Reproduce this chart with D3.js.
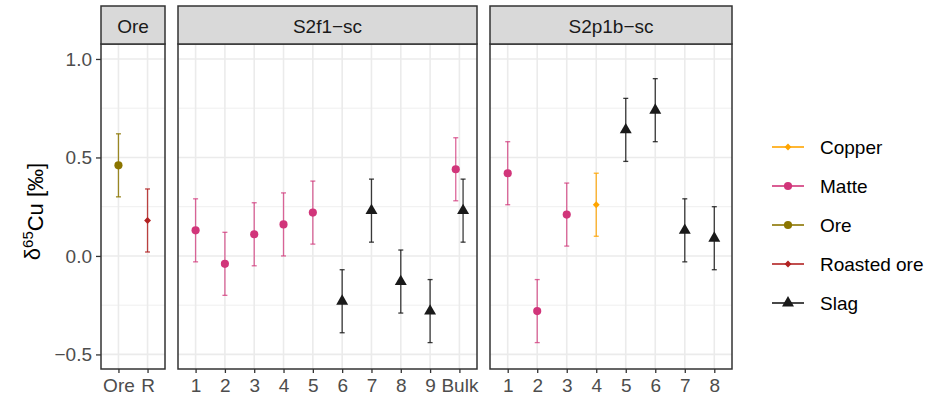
<!DOCTYPE html>
<html>
<head>
<meta charset="utf-8">
<script src="https://cdn.jsdelivr.net/npm/d3@7"></script>
<style>
  body { margin: 0; background: #fff; }
  svg { font-family: "Liberation Sans", Arial, Helvetica, sans-serif; }
</style>
</head>
<body>
<svg id="chart" width="935" height="401"></svg>
<script>
// facet names and their x categories
const panelNames = ["Ore", "S2f1-sc", "S2p1b-sc"];
const oreCats = ["Ore", "R"];
const s2fCats = ["1", "2", "3", "4", "5", "6", "7", "8", "9", "Bulk"];
const s2pCats = ["1", "2", "3", "4", "5", "6", "7", "8"];

// measurements per facet: category, material, delta65Cu, low, high
const oreData = [
  ["Ore", "Ore", 0.46, 0.30, 0.62],
  ["R", "Roasted ore", 0.18, 0.02, 0.34],
];
const s2fData = [
  ["1", "Matte", 0.13, -0.03, 0.29],
  ["2", "Matte", -0.04, -0.20, 0.12],
  ["3", "Matte", 0.11, -0.05, 0.27],
  ["4", "Matte", 0.16, 0.00, 0.32],
  ["5", "Matte", 0.22, 0.06, 0.38],
  ["6", "Slag", -0.23, -0.39, -0.07],
  ["7", "Slag", 0.23, 0.07, 0.39],
  ["8", "Slag", -0.13, -0.29, 0.03],
  ["9", "Slag", -0.28, -0.44, -0.12],
  ["Bulk", "Matte", 0.44, 0.28, 0.60],
  ["Bulk", "Slag", 0.23, 0.07, 0.39],
];
const s2pData = [
  ["1", "Matte", 0.42, 0.26, 0.58],
  ["2", "Matte", -0.28, -0.44, -0.12],
  ["3", "Matte", 0.21, 0.05, 0.37],
  ["4", "Copper", 0.26, 0.10, 0.42],
  ["5", "Slag", 0.64, 0.48, 0.80],
  ["6", "Slag", 0.74, 0.58, 0.90],
  ["7", "Slag", 0.13, -0.03, 0.29],
  ["8", "Slag", 0.09, -0.07, 0.25],
];

const materials = ["Copper", "Matte", "Ore", "Roasted ore", "Slag"];
const materialColors = ["#FFA500", "#D1357A", "#8B7500", "#B22222", "#1A1A1A"];
const materialShapes = ["diamond", "circle", "circle", "diamond", "triangle"];
const yTicks = [-0.5, 0.0, 0.5, 1.0];
const yMinor = [-0.25, 0.25, 0.75];

const svg = d3.select("#chart");
const color = d3.scaleOrdinal().domain(materials).range(materialColors);
const shape = d3.scaleOrdinal().domain(materials).range(materialShapes);

const plotTop = 44, plotBottom = 369;
const y = d3.scaleLinear().domain([-0.574, 1.076]).range([plotBottom, plotTop]);

const panels = [
  { name: panelNames[0], cats: oreCats, data: oreData, x0: 101, x1: 165 },
  { name: panelNames[1], cats: s2fCats, data: s2fData, x0: 178, x1: 477 },
  { name: panelNames[2], cats: s2pCats, data: s2pData, x0: 490, x1: 732 },
];

const symbolPath = s => {
  if (s === "circle") return d3.symbol(d3.symbolCircle, 52)();
  if (s === "triangle") return d3.symbol(d3.symbolTriangle, 62)();
  return d3.symbol(d3.symbolDiamond2, 30)();
};

panels.forEach(p => {
  const x = d3.scalePoint().domain(p.cats).range([p.x0, p.x1]).padding(0.6);
  const step = x.step();
  const g = svg.append("g");

  // grid
  g.selectAll(".minor").data(yMinor).join("line")
    .attr("x1", p.x0).attr("x2", p.x1)
    .attr("y1", d => y(d)).attr("y2", d => y(d))
    .attr("stroke", "#EBEBEB").attr("stroke-width", 0.8);
  g.selectAll(".major").data(yTicks).join("line")
    .attr("x1", p.x0).attr("x2", p.x1)
    .attr("y1", d => y(d)).attr("y2", d => y(d))
    .attr("stroke", "#EBEBEB").attr("stroke-width", 1.6);
  g.selectAll(".vgrid").data(p.cats).join("line")
    .attr("x1", d => x(d)).attr("x2", d => x(d))
    .attr("y1", plotTop).attr("y2", plotBottom)
    .attr("stroke", "#EBEBEB").attr("stroke-width", 1.6);

  // dodge where a category holds more than one material
  const counts = d3.rollup(p.data, v => v.length, d => d[0]);
  const seen = {};
  const px = d => {
    const n = counts.get(d[0]);
    if (n === 1) return x(d[0]);
    const k = seen[d[0]] = (seen[d[0]] === undefined ? 0 : seen[d[0]] + 1);
    return x(d[0]) + (k - (n - 1) / 2) * step * 0.25;
  };
  const pts = p.data.map(d => ({ d, cx: px(d) }));

  // error bars
  const eb = g.selectAll(".eb").data(pts).join("g")
    .attr("stroke", e => color(e.d[1]))
    .attr("stroke-opacity", e => e.d[1] === "Matte" ? 0.75 : 0.85)
    .attr("stroke-width", 1.3);
  eb.append("line")
    .attr("x1", e => e.cx).attr("x2", e => e.cx)
    .attr("y1", e => y(e.d[3])).attr("y2", e => y(e.d[4]));
  [3, 4].forEach(i => {
    eb.append("line")
      .attr("x1", e => e.cx - 2.5).attr("x2", e => e.cx + 2.5)
      .attr("y1", e => y(e.d[i])).attr("y2", e => y(e.d[i]));
  });

  // points
  g.selectAll(".pt").data(pts).join("path")
    .attr("d", e => symbolPath(shape(e.d[1])))
    .attr("transform", e => `translate(${e.cx},${y(e.d[2])})`)
    .attr("fill", e => color(e.d[1]));

  // panel border
  g.append("rect")
    .attr("x", p.x0).attr("y", plotTop)
    .attr("width", p.x1 - p.x0).attr("height", plotBottom - plotTop)
    .attr("fill", "none").attr("stroke", "#333").attr("stroke-width", 1.5);

  // strip
  g.append("rect")
    .attr("x", p.x0).attr("y", 6)
    .attr("width", p.x1 - p.x0).attr("height", plotTop - 6)
    .attr("fill", "#D9D9D9").attr("stroke", "#333").attr("stroke-width", 1.5);
  g.append("text")
    .attr("x", (p.x0 + p.x1) / 2).attr("y", 26).attr("dy", "0.35em")
    .attr("text-anchor", "middle").attr("fill", "#1A1A1A")
    .style("font-size", "19px")
    .text(p.name.replace("-", "\u2212"));

  // x axis
  const xa = svg.append("g")
    .attr("transform", `translate(0,${plotBottom})`)
    .call(d3.axisBottom(x).tickSize(4).tickPadding(6));
  xa.select(".domain").remove();
  xa.selectAll(".tick line").attr("stroke", "#333").attr("stroke-width", 1.3);
  xa.selectAll(".tick text").attr("fill", "#4D4D4D").style("font-size", "19px");
});

// y axis
const ya = svg.append("g")
  .attr("transform", `translate(${panels[0].x0},0)`)
  .call(d3.axisLeft(y).tickValues(yTicks).tickSize(5).tickPadding(4)
    .tickFormat(d => d3.format(".1f")(d).replace("-", "\u2212")));
ya.select(".domain").remove();
ya.selectAll(".tick line").attr("stroke", "#333").attr("stroke-width", 1.3);
ya.selectAll(".tick text").attr("fill", "#4D4D4D").style("font-size", "19px");

// y label
const yl = svg.append("text")
  .attr("transform", `translate(40,${(plotTop + plotBottom) / 2 + 5}) rotate(-90)`)
  .attr("text-anchor", "middle").attr("fill", "#000")
  .style("font-size", "22px");
yl.append("tspan").text("\u03B4");
yl.append("tspan").attr("dy", "-0.45em").style("font-size", "15px").text("65");
yl.append("tspan").attr("dy", "0.45em").text("Cu [\u2030]");

// legend
const lg = svg.append("g");
const li = lg.selectAll("g").data(materials).join("g")
  .attr("transform", (d, i) => `translate(772,${147 + i * 39})`);
li.append("line").attr("x1", 0).attr("x2", 32)
  .attr("stroke", d => color(d)).attr("stroke-width", 1.6);
li.append("path")
  .attr("d", d => symbolPath(shape(d)))
  .attr("transform", "translate(16,0)")
  .attr("fill", d => color(d));
li.append("text").attr("x", 48).attr("dy", "0.35em")
  .style("font-size", "19px").attr("fill", "#000")
  .text(d => d);
</script>
</body>
</html>
